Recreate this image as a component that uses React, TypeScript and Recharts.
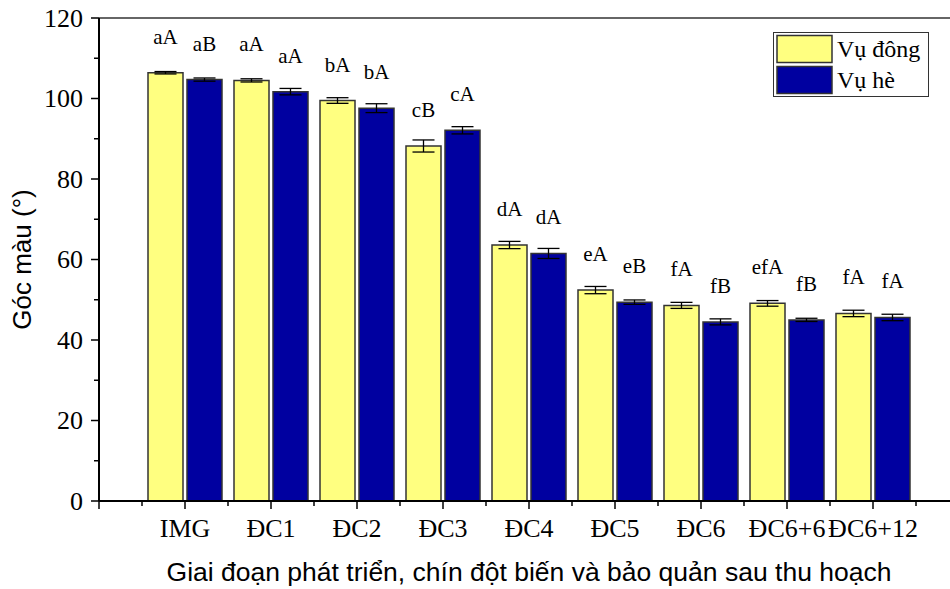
import React from "react";
import {
  Bar,
  BarChart,
  ErrorBar,
  LabelList,
  Legend,
  ReferenceLine,
  XAxis,
  YAxis,
} from "recharts";

const stages = ["IMG", "ĐC1", "ĐC2", "ĐC3", "ĐC4", "ĐC5", "ĐC6", "ĐC6+6", "ĐC6+12"];

const winter = [106.4, 104.5, 99.5, 88.2, 63.6, 52.4, 48.6, 49.1, 46.6];
const winterErr = [0.3, 0.4, 0.7, 1.5, 0.9, 0.9, 0.75, 0.7, 0.8];
const winterLetters = ["aA", "aA", "bA", "cB", "dA", "eA", "fA", "efA", "fA"];

const summer = [104.7, 101.7, 97.6, 92.1, 61.5, 49.4, 44.5, 45.0, 45.6];
const summerErr = [0.4, 0.8, 1.1, 0.9, 1.25, 0.55, 0.75, 0.4, 0.8];
const summerLetters = ["aB", "aA", "bA", "cA", "dA", "eB", "fB", "fB", "fA"];

const yTicks = [0, 10, 20, 30, 40, 50, 60, 70, 80, 90, 100, 110, 120];

const seriesOrder = ["winter", "summer"];

const rows = stages.map((stage, i) => ({
  stage,
  winter: winter[i],
  winterErr: winterErr[i],
  winterLetter: winterLetters[i],
  summer: summer[i],
  summerErr: summerErr[i],
  summerLetter: summerLetters[i],
}));

const SERIF = '"Liberation Serif", "Times New Roman", serif';
const SANS = '"Liberation Sans", Arial, sans-serif';
const YELLOW = "#ffff80";
const BLUE = "#0000a0";
const EDGE = "#333";

const CHART_W = 960;
const CHART_H = 589;
const PAD_X = 43; // half a category slot on either end of the x axis
const HALF_BAND = 43;

const YTick = (props: any) => {
  const { x, y, payload } = props;
  const major = payload.value % 20 === 0;
  return (
    <g>
      <line x1={x - (major ? 8 : 5)} x2={x} y1={y} y2={y} stroke="#000" strokeWidth={1.5} />
      {major && (
        <text
          x={x - 16}
          y={y}
          textAnchor="end"
          dominantBaseline="central"
          fontFamily={SERIF}
          fontSize={26}
          fill="#000"
        >
          {payload.value}
        </text>
      )}
    </g>
  );
};

const XTick = (props: any) => {
  const { x, y, payload, index } = props;
  const last = index === stages.length - 1;
  return (
    <g stroke="#000" strokeWidth={1.5}>
      <line x1={x} x2={x} y1={y} y2={y + 8} />
      <line x1={x - HALF_BAND} x2={x - HALF_BAND} y1={y} y2={y + 5} />
      {index === 0 && <line x1={x - 2 * HALF_BAND} x2={x - 2 * HALF_BAND} y1={y} y2={y + 8} />}
      {last && <line x1={x + HALF_BAND} x2={x + HALF_BAND} y1={y} y2={y + 5} />}
      {last && <line x1={x + 2 * HALF_BAND} x2={x + 2 * HALF_BAND} y1={y} y2={y + 8} />}
      <text
        x={x}
        y={y + 36}
        textAnchor="middle"
        fontFamily={SERIF}
        fontSize={26}
        fill="#000"
        stroke="none"
      >
        {payload.value}
      </text>
    </g>
  );
};

// significance letters sit a fixed distance above each bar top
const letterLabel = (props: any) => {
  const { x, y, width, value } = props;
  return (
    <text
      x={x + width / 2}
      y={y - 36}
      textAnchor="middle"
      dominantBaseline="central"
      fontFamily={SERIF}
      fontSize={21}
      fill="#000"
    >
      {value}
    </text>
  );
};

const renderLegend = (props: any) => {
  const items = [...(props.payload || [])].sort(
    (a: any, b: any) => seriesOrder.indexOf(a.dataKey) - seriesOrder.indexOf(b.dataKey)
  );
  return (
    <svg width={158} height={67} style={{ display: "block" }}>
      <rect x={0.5} y={0.5} width={155} height={64} fill="#fff" stroke={EDGE} strokeWidth={1} />
      {items.map((item: any, i: number) => (
        <g key={item.value}>
          <rect
            x={4}
            y={3.5 + i * 31}
            width={55}
            height={27}
            fill={item.color}
            stroke={EDGE}
            strokeWidth={1.5}
          />
          <text x={64} y={25 + i * 31} fontFamily={SERIF} fontSize={24} fill="#000">
            {item.value}
          </text>
        </g>
      ))}
    </svg>
  );
};

const YTitle = (props: any) => {
  const { viewBox } = props;
  const cx = 22;
  const cy = viewBox.y + viewBox.height / 2;
  return (
    <text
      x={cx}
      y={cy}
      transform={`rotate(-90, ${cx}, ${cy})`}
      textAnchor="middle"
      dominantBaseline="central"
      fontFamily={SANS}
      fontSize={26}
      fill="#000"
    >
      Góc màu (°)
    </text>
  );
};

const XTitle = (props: any) => {
  const { viewBox } = props;
  return (
    <text
      x={viewBox.x + viewBox.width / 2}
      y={viewBox.y + 80}
      textAnchor="middle"
      fontFamily={SANS}
      fontSize={26.5}
      fill="#000"
    >
      Giai đoạn phát triển, chín đột biến và bảo quản sau thu hoạch
    </text>
  );
};

export default function App() {
  return (
    <div
      style={{
        position: "absolute",
        left: 0,
        top: 0,
        width: 950,
        height: 589,
        overflow: "hidden",
        background: "#fff",
      }}
    >
      <BarChart
        width={CHART_W}
        height={CHART_H}
        data={rows}
        margin={{ top: 18, right: 1, bottom: 0, left: 0 }}
        barSize={35}
        barGap={4}
      >
        <ReferenceLine y={120} stroke={EDGE} strokeWidth={1.5} />
        <XAxis
          dataKey="stage"
          height={88}
          padding={{ left: PAD_X, right: PAD_X }}
          interval={0}
          tickSize={0}
          tickMargin={0}
          tickLine={false}
          axisLine={{ stroke: "#000", strokeWidth: 2 }}
          tick={<XTick />}
          label={<XTitle />}
        />
        <YAxis
          width={99}
          domain={[0, 120]}
          ticks={yTicks}
          interval={0}
          allowDataOverflow
          tickSize={0}
          tickMargin={0}
          tickLine={false}
          axisLine={{ stroke: "#000", strokeWidth: 2 }}
          tick={<YTick />}
          label={<YTitle />}
        />
        <Legend
          layout="vertical"
          align="center"
          verticalAlign="middle"
          content={renderLegend}
          wrapperStyle={{ position: "absolute", left: 773, top: 32, width: 158, height: 67 }}
        />
        <Bar
          dataKey="winter"
          name="Vụ đông"
          fill={YELLOW}
          stroke={EDGE}
          strokeWidth={1.5}
          isAnimationActive={false}
        >
          <ErrorBar
            dataKey="winterErr"
            direction="y"
            width={11}
            stroke="#000"
            strokeWidth={1.3}
            isAnimationActive={false}
          />
          <LabelList dataKey="winterLetter" content={letterLabel} />
        </Bar>
        <Bar
          dataKey="summer"
          name="Vụ hè"
          fill={BLUE}
          stroke={EDGE}
          strokeWidth={1.5}
          isAnimationActive={false}
        >
          <ErrorBar
            dataKey="summerErr"
            direction="y"
            width={11}
            stroke="#000"
            strokeWidth={1.3}
            isAnimationActive={false}
          />
          <LabelList dataKey="summerLetter" content={letterLabel} />
        </Bar>
      </BarChart>
    </div>
  );
}
